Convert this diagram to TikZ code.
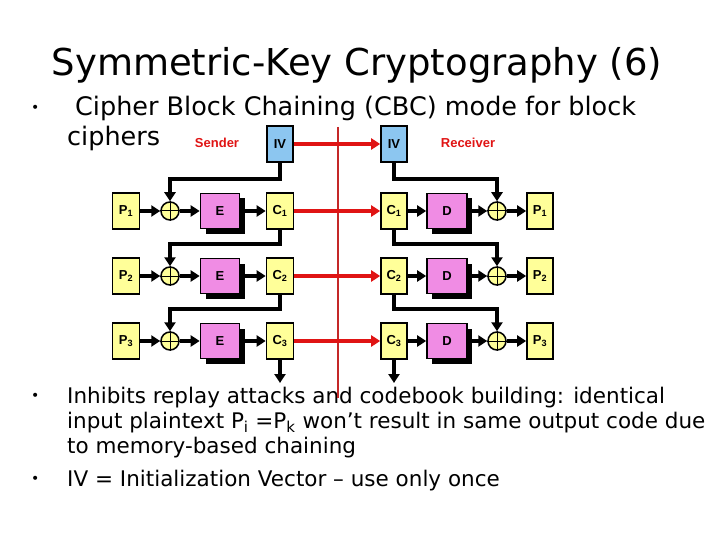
\documentclass[tikz,border=0pt]{standalone}
\usepackage{fontspec}
\setmainfont{DejaVu Sans}
\newfontfamily\dgfont{Liberation Sans}
\usetikzlibrary{%
  arrows.meta,%
  shadows%
}

\definecolor{boxyellow}{HTML}{FFFF99}
\definecolor{boxpink}{HTML}{F08CE4}
\definecolor{boxblue}{HTML}{8CC6F0}
\definecolor{linkred}{HTML}{E01414}
\definecolor{midred}{HTML}{C42828}

\begin{document}
\begin{tikzpicture}[x=1pt,y=-1pt,
    dbox/.style={draw,line width=1.6pt,minimum width=27pt,minimum height=36pt,
      inner sep=0pt,font=\dgfont\bfseries\fontsize{13}{15}\selectfont},
    ybox/.style={dbox,fill=boxyellow},
    ivbox/.style={dbox,fill=boxblue},
    cbox/.style={dbox,fill=boxpink,minimum width=39pt,minimum height=35pt,
      drop shadow={shadow xshift=5pt,shadow yshift=-5pt,fill=black,opacity=1}},
    xorc/.style={draw,circle,line width=1.5pt,fill=boxyellow,minimum size=18pt,inner sep=0pt},
    arr/.style={line width=3.2pt,-{Triangle[length=9pt,width=11pt]}},
    redarr/.style={line width=3.2pt,linkred,-{Triangle[length=9pt,width=11pt]}},
    sidelabel/.style={linkred,font=\dgfont\bfseries\fontsize{13}{15}\selectfont},
    bodytext/.style={anchor=base west,inner sep=0pt,font=\fontsize{21.5}{25}\selectfont},
    dot/.style={anchor=base west,inner sep=0pt,font=\fontsize{14}{16}\selectfont}
  ]
    \useasboundingbox (0,0) rectangle (720,540);

    % title and text
    \node[anchor=base,inner sep=0pt,font=\fontsize{37}{44}\selectfont] (title) at (357,76)
    {Symmetric-Key Cryptography (6)};
    \node[dot] (dot1) at (31,113) {\textbullet};
    \node[bodytext,font=\fontsize{25.5}{30}\selectfont] (line1) at (75,116) {Cipher Block Chaining (CBC) mode for block};
    \node[bodytext,font=\fontsize{25.5}{30}\selectfont] (line2) at (67,146) {ciphers};
    \node[dot] (dot2) at (31,400) {\textbullet};
    \node[bodytext] (line3) at (67,403) {Inhibits replay attacks and codebook building: identical};
    \node[bodytext] (line4) at (67,428) {input plaintext P\textsubscript{i} =P\textsubscript{k} won't result in same output code due};
    \node[bodytext] (line5) at (67,453) {to memory-based chaining};
    \node[dot] (dot3) at (31,483) {\textbullet};
    \node[bodytext] (line6) at (67,486) {IV = Initialization Vector -- use only once};

    % sender / receiver
    \coordinate (midtop) at (338,127);
    \coordinate (midbot) at (338,398);
    \draw[line width=1.8pt,midred] (midtop) -- (midbot);
    \node[sidelabel] (snd) at (217,143) {Sender};
    \node[sidelabel] (rcv) at (468,143) {Receiver};
    \node[ivbox,minimum width=26pt] (ivs) at (280,144) {IV};
    \node[ivbox,minimum width=26pt] (ivr) at (394,144) {IV};
    \draw[redarr] (ivs) -- (ivr);

    \foreach \r/\y/\prs/\prr in {1/211/ivs/ivr,2/276/cs1/cr1,3/341/cs2/cr2} {
      \node[ybox] (ps\r) at (126,\y) {P\textsubscript{\r}};
      \node[xorc] (xs\r) at (170,\y) {};
      \node[cbox] (e\r) at (220,\y) {E};
      \node[ybox] (cs\r) at (280,\y) {C\textsubscript{\r}};
      \node[ybox,minimum width=26pt] (cr\r) at (394,\y) {C\textsubscript{\r}};
      \node[cbox,minimum width=40pt] (d\r) at (447,\y) {D};
      \node[xorc] (xr\r) at (497,\y) {};
      \node[ybox,minimum width=26pt] (pr\r) at (540,\y) {P\textsubscript{\r}};
      \draw[line width=1pt] (xs\r.north) -- (xs\r.south) (xs\r.west) -- (xs\r.east);
      \draw[line width=1pt] (xr\r.north) -- (xr\r.south) (xr\r.west) -- (xr\r.east);
      \draw[arr] (ps\r) -- (xs\r);
      \draw[arr] (xs\r) -- (e\r);
      \draw[arr] (e\r) -- (cs\r);
      \draw[arr] (cr\r) -- (d\r);
      \draw[arr] (d\r) -- (xr\r);
      \draw[arr] (xr\r) -- (pr\r);
      \draw[redarr] (cs\r) -- (cr\r);
      \draw[arr,line join=miter] (\prs.south) -- (\prs.south |- 0,\y-32) -| (xs\r.north);
      \draw[arr,line join=miter] (\prr.south) -- (\prr.south |- 0,\y-32) -| (xr\r.north);
    }
    \coordinate (outs) at (280,383);
    \coordinate (outr) at (394,383);
    \draw[arr] (cs3.south) -- (outs);
    \draw[arr] (cr3.south) -- (outr);
  \end{tikzpicture}
\end{document}
